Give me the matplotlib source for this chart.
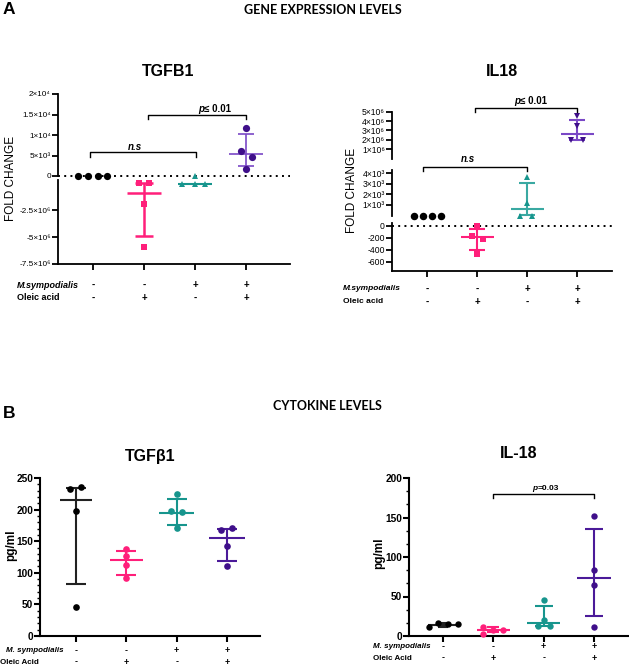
import matplotlib
matplotlib.use("Agg")
import matplotlib.pyplot as plt
from matplotlib.ticker import FixedLocator, FixedFormatter, AutoMinorLocator
from matplotlib.transforms import blended_transform_factory as btf

plt.rcParams['font.family'] = ['Liberation Sans', 'DejaVu Sans']

W, H = 629, 665

# ---------------- data ----------------
groups = ["Control", "Oleic acid", "M.sympodialis", "M.sympodialis + Oleic acid"]
msymp_signs = ["-", "-", "+", "+"]
oleic_signs = ["-", "+", "-", "+"]

# A: TGFB1 fold change
tgfb1_fc_black = [0, 0, 0, 0]
tgfb1_fc_pink = [1.0e5, 1.0e5, -1.9e6, -5.9e6]
tgfb1_fc_teal = [0, -1e4, -1e4, -1e4]
tgfb1_fc_purple = [11600, 6100, 4700, 1700]
tgfb1_fc_center = [None, -0.85e6, -1e4, 5400]
tgfb1_fc_low = [None, -4.9e6, -2e4, 2400]
tgfb1_fc_high = [None, 4e4, 0, 10200]
tgfb1_upper_ticks = [0, 5e3, 1e4, 1.5e4, 2e4]
tgfb1_upper_labels = ["0", "5×10³", "1×10⁴", "1.5×10⁴", "2×10⁴"]
tgfb1_lower_ticks = [-7.5e6, -5e6, -2.5e6]
tgfb1_lower_labels = ["-7.5×10⁶", "-5×10⁶", "-2.5×10⁶"]

# A: IL18 fold change
il18_fc_black = [0, 0, 0, 0]
il18_fc_pink = [-5, -170, -220, -470]
il18_fc_teal = [3700, 1160, 0, 0]
il18_fc_purple = [4.5e6, 3.43e6, 2.0e6, 2.0e6]
il18_fc_center = [None, -195, 620, 2.65e6]
il18_fc_low = [None, -405, 50, 2.0e6]
il18_fc_high = [None, -55, 3070, 4.15e6]
il18_top_ticks = [1e6, 2e6, 3e6, 4e6, 5e6]
il18_top_labels = ["1×10⁶", "2×10⁶", "3×10⁶", "4×10⁶", "5×10⁶"]
il18_mid_ticks = [1e3, 2e3, 3e3, 4e3]
il18_mid_labels = ["1×10³", "2×10³", "3×10³", "4×10³"]
il18_low_ticks = [-600, -400, -200, 0]
il18_low_labels = ["-600", "-400", "-200", "0"]

# B: TGFβ1 pg/ml
tgfb1_pg_black = [232, 236, 198, 46]
tgfb1_pg_pink = [138, 127, 113, 92]
tgfb1_pg_teal = [225, 197, 196, 171]
tgfb1_pg_purple = [168, 171, 143, 110]
tgfb1_pg_center = [215, 120, 194, 155]
tgfb1_pg_low = [83, 97, 176, 118]
tgfb1_pg_high = [234, 134, 217, 170]

# B: IL-18 pg/ml
il18_pg_black = [11, 16, 15, 15]
il18_pg_pink = [12, 3, 8, 8]
il18_pg_teal = [45, 20, 13, 13]
il18_pg_purple = [152, 84, 64, 12]
il18_pg_center = [14, 8, 17, 74]
il18_pg_low = [12, 5, 13, 25]
il18_pg_high = [16, 11, 38.5, 135]

# ---------------- style ----------------
BLACK = "#000000"
PINK = "#FF1F7A"
TEAL = "#17958D"
TEAL_L = "#3AA9A2"
PURPLE = "#3F0F8A"
PURPLE_L = "#7A48C6"
PURPLE_B = "#4B1A99"

fig = plt.figure(figsize=(W / 100, H / 100), dpi=100)


def box(x0, y0, x1, y1):
    return [x0 / W, 1 - y1 / H, (x1 - x0) / W, (y1 - y0) / H]


def fx(x):
    return x / W


def fy(y):
    return 1 - y / H


def style_axes(ax, xlim, ylim, bottom=False, lw=1.3):
    ax.set_xlim(*xlim)
    ax.set_ylim(*ylim)
    ax.patch.set_alpha(0)
    for s in ["top", "right"]:
        ax.spines[s].set_visible(False)
    ax.spines["left"].set_linewidth(lw)
    ax.spines["bottom"].set_linewidth(lw)
    if not bottom:
        ax.spines["bottom"].set_visible(False)
        ax.tick_params(axis="x", bottom=False, labelbottom=False)
    else:
        ax.set_xticks(range(4))
        ax.tick_params(axis="x", length=4, width=lw, labelbottom=False)
    ax.tick_params(axis="y", length=4, width=lw, pad=1.2)


def draw_group(ax_order, xc, vals, offs, center, lo, hi, mcolor, lcolor,
               marker, ms, mw=0.33, cw=0.17, lw=1.5):
    def pick(v):
        for a in ax_order:
            y0, y1 = a.get_ylim()
            if min(y0, y1) <= v <= max(y0, y1):
                return a
        return ax_order[-1]
    if center is not None:
        a = pick(center)
        kw = dict(color=lcolor, lw=lw, clip_on=False, zorder=3, solid_capstyle="butt")
        a.plot([xc - mw, xc + mw], [center, center], **kw)
        a.plot([xc, xc], [lo, hi], **kw)
        a.plot([xc - cw, xc + cw], [lo, lo], **kw)
        a.plot([xc - cw, xc + cw], [hi, hi], **kw)
    for v, o in zip(vals, offs):
        a = pick(v)
        a.plot([xc + o], [v], marker=marker, ms=ms, color=mcolor, ls="none",
               clip_on=False, zorder=4, markeredgewidth=0)


def bracket(ax, x0, x1, y, drop):
    ax.plot([x0, x0, x1, x1], [y - drop, y, y, y - drop], color="black",
            lw=1.0, clip_on=False, zorder=5)


def table(ax, y1, y2, fs):
    tr = btf(ax.transData, fig.transFigure)
    for i in range(4):
        ax.text(i, fy(y1), msymp_signs[i], transform=tr, ha="center", va="center",
                fontsize=fs, fontweight="bold")
        ax.text(i, fy(y2), oleic_signs[i], transform=tr, ha="center", va="center",
                fontsize=fs, fontweight="bold")


# ---------------- headings ----------------
fig.text(fx(3), fy(10), "A", fontsize=12.5, fontweight="bold", va="center", ha="left")
fig.text(fx(3), fy(413), "B", fontsize=12.5, fontweight="bold", va="center", ha="left")
fig.text(fx(323), fy(10), "GENE EXPRESSION LEVELS", fontsize=9, fontweight="bold",
         ha="center", va="center", family=["Lato", "DejaVu Sans"])
fig.text(fx(327), fy(406), "CYTOKINE LEVELS", fontsize=9, fontweight="bold",
         ha="center", va="center", family=["Lato", "DejaVu Sans"])

# ================= A: TGFB1 =================
xl_a1 = (-0.686, 3.863)
axU = fig.add_axes(box(58, 94, 290, 176))
axL = fig.add_axes(box(58, 180, 290, 264))
style_axes(axU, xl_a1, (0, 2e4))
style_axes(axL, xl_a1, (-7.5e6, 0.35e6), bottom=True)
axU.yaxis.set_major_locator(FixedLocator(tgfb1_upper_ticks))
axU.yaxis.set_major_formatter(FixedFormatter(tgfb1_upper_labels))
axL.yaxis.set_major_locator(FixedLocator(tgfb1_lower_ticks))
axL.yaxis.set_major_formatter(FixedFormatter(tgfb1_lower_labels))
for a in (axU, axL):
    a.tick_params(axis="y", labelsize=5.9)
axU.axhline(0, color="black", lw=1.4, ls=(0, (1, 2.2)), clip_on=False, zorder=2)

order = [axU, axL]
draw_group(order, 0, tgfb1_fc_black, [-0.29, -0.1, 0.1, 0.28], tgfb1_fc_center[0],
           tgfb1_fc_low[0], tgfb1_fc_high[0], BLACK, BLACK, "o", 5.2)
draw_group(order, 1, tgfb1_fc_pink, [-0.1, 0.1, 0, 0], tgfb1_fc_center[1],
           tgfb1_fc_low[1], tgfb1_fc_high[1], PINK, PINK, "s", 4.6, lw=1.8)
draw_group(order, 2, tgfb1_fc_teal, [0, -0.25, 0, 0.2], tgfb1_fc_center[2],
           tgfb1_fc_low[2], tgfb1_fc_high[2], TEAL, TEAL, "^", 4.8, cw=0.0)
draw_group(order, 3, tgfb1_fc_purple, [0, -0.1, 0.11, 0], tgfb1_fc_center[3],
           tgfb1_fc_low[3], tgfb1_fc_high[3], PURPLE, PURPLE_L, "o", 5.2, lw=1.2, cw=0.16)

bracket(axU, -0.05, 2.02, 5.8e3, 1.1e3)
bracket(axU, 1.07, 3.0, 14.9e3, 1.1e3)
fig.text(fx(135), fy(146.5), "n.s", fontsize=7, fontweight="bold", fontstyle="italic",
         ha="center", va="center")
fig.text(fx(204), fy(108.5), "p", fontsize=7, fontweight="bold", fontstyle="italic",
         ha="right", va="center")
fig.text(fx(204), fy(108.5), "≤ 0.01", fontsize=7, fontweight="bold", ha="left", va="center")
fig.text(fx(168), fy(72), "TGFB1", fontsize=11.5, fontweight="bold", ha="center", va="center")
fig.text(fx(11), fy(178), "FOLD CHANGE", fontsize=8.5, rotation=90, ha="center", va="center")
fig.text(fx(17), fy(285), "M.sympodialis", fontsize=6.5, fontweight="bold",
         fontstyle="italic", ha="left", va="center")
fig.text(fx(17), fy(298), "Oleic acid", fontsize=6.5, fontweight="bold", ha="left", va="center")
table(axL, 285, 298, 7)

# ================= A: IL18 =================
xl_a2 = (-0.7, 3.7)
axT = fig.add_axes(box(392, 111.7, 612, 158.6))
axM = fig.add_axes(box(392, 170, 612, 215.5))
axB = fig.add_axes(box(392, 223, 612, 271))
style_axes(axT, xl_a2, (0, 5e6))
style_axes(axM, xl_a2, (0, 4330))
style_axes(axB, xl_a2, (-755, 45), bottom=True)
axT.yaxis.set_major_locator(FixedLocator(il18_top_ticks))
axT.yaxis.set_major_formatter(FixedFormatter(il18_top_labels))
axM.yaxis.set_major_locator(FixedLocator(il18_mid_ticks))
axM.yaxis.set_major_formatter(FixedFormatter(il18_mid_labels))
axB.yaxis.set_major_locator(FixedLocator(il18_low_ticks))
axB.yaxis.set_major_formatter(FixedFormatter(il18_low_labels))
for a in (axT, axM, axB):
    a.tick_params(axis="y", labelsize=6.2)
axB.axhline(0, color="black", lw=1.4, ls=(0, (1, 2.2)), clip_on=False, zorder=2)

order2 = [axM, axB, axT]
draw_group(order2, 0, il18_fc_black, [-0.27, -0.09, 0.09, 0.27], il18_fc_center[0],
           il18_fc_low[0], il18_fc_high[0], BLACK, BLACK, "o", 5.4)
draw_group(order2, 1, il18_fc_pink, [0, -0.11, 0.12, 0], il18_fc_center[1],
           il18_fc_low[1], il18_fc_high[1], PINK, PINK, "s", 4.8, cw=0.16)
draw_group(order2, 2, il18_fc_teal, [0, 0, -0.14, 0.1], il18_fc_center[2],
           il18_fc_low[2], il18_fc_high[2], TEAL, TEAL_L, "^", 5.0, cw=0.16)
draw_group(order2, 3, il18_fc_purple, [0, 0, -0.12, 0.12], il18_fc_center[3],
           il18_fc_low[3], il18_fc_high[3], PURPLE, PURPLE_L, "v", 5.0, cw=0.16)

bracket(axT, 0.95, 3.0, 5.36e6, 0.42e6)
bracket(axM, -0.09, 2.0, 4650, 410)
fig.text(fx(468), fy(159.3), "n.s", fontsize=7, fontweight="bold", fontstyle="italic",
         ha="center", va="center")
fig.text(fx(520), fy(101), "p", fontsize=7, fontweight="bold", fontstyle="italic",
         ha="right", va="center")
fig.text(fx(520), fy(101), "≤ 0.01", fontsize=7, fontweight="bold", ha="left", va="center")
fig.text(fx(502), fy(72), "IL18", fontsize=11.5, fontweight="bold", ha="center", va="center")
fig.text(fx(352), fy(190), "FOLD CHANGE", fontsize=8.5, rotation=90, ha="center", va="center")
fig.text(fx(343), fy(289), "M.sympodialis", fontsize=6, fontweight="bold",
         fontstyle="italic", ha="left", va="center")
fig.text(fx(343), fy(302), "Oleic acid", fontsize=6, fontweight="bold", ha="left", va="center")
table(axB, 289, 302, 7)

# ================= B: TGFβ1 =================
axC = fig.add_axes(box(40, 478, 260, 636))
style_axes(axC, (-0.715, 3.656), (0, 250), bottom=True, lw=1.5)
axC.set_yticks([0, 50, 100, 150, 200, 250])
axC.yaxis.set_minor_locator(AutoMinorLocator(5))
axC.tick_params(axis="y", which="minor", length=2, width=1)
axC.tick_params(axis="y", labelsize=7.3, pad=1)
for t in axC.get_yticklabels():
    t.set_fontweight("bold")
draw_group([axC], 0, tgfb1_pg_black, [-0.12, 0.1, 0, 0], tgfb1_pg_center[0],
           tgfb1_pg_low[0], tgfb1_pg_high[0], BLACK, "#222222", "o", 4.8, mw=0.32, cw=0.2)
draw_group([axC], 1, tgfb1_pg_pink, [0, 0, 0, 0], tgfb1_pg_center[1],
           tgfb1_pg_low[1], tgfb1_pg_high[1], PINK, PINK, "o", 4.8, mw=0.33, cw=0.2)
draw_group([axC], 2, tgfb1_pg_teal, [0, -0.12, 0.1, 0], tgfb1_pg_center[2],
           tgfb1_pg_low[2], tgfb1_pg_high[2], TEAL, TEAL, "o", 4.8, mw=0.35, cw=0.2)
draw_group([axC], 3, tgfb1_pg_purple, [-0.12, 0.1, 0, 0], tgfb1_pg_center[3],
           tgfb1_pg_low[3], tgfb1_pg_high[3], PURPLE, PURPLE_B, "o", 4.8, mw=0.35, cw=0.2)
fig.text(fx(150), fy(456), "TGFβ1", fontsize=11.5, fontweight="bold", ha="center", va="center")
fig.text(fx(11), fy(545), "pg/ml", fontsize=8.5, fontweight="bold", rotation=90,
         ha="center", va="center")
fig.text(fx(64), fy(651), "M. sympodialis", fontsize=5.8, fontweight="bold",
         fontstyle="italic", ha="right", va="center")
fig.text(fx(0), fy(662), "Oleic Acid", fontsize=5.8, fontweight="bold", ha="left", va="center")
table(axC, 651, 662, 6.5)

# ================= B: IL-18 =================
axD = fig.add_axes(box(409, 478, 628, 636))
style_axes(axD, (-0.676, 3.676), (0, 200), bottom=True, lw=1.5)
axD.set_yticks([0, 50, 100, 150, 200])
axD.yaxis.set_minor_locator(AutoMinorLocator(3))
axD.tick_params(axis="y", which="minor", length=2, width=1)
axD.tick_params(axis="y", labelsize=7.3, pad=1)
for t in axD.get_yticklabels():
    t.set_fontweight("bold")
draw_group([axD], 0, il18_pg_black, [-0.28, -0.1, 0.1, 0.29], il18_pg_center[0],
           il18_pg_low[0], il18_pg_high[0], BLACK, "#222222", "o", 4.6, mw=0.3, cw=0.1)
draw_group([axD], 1, il18_pg_pink, [-0.2, -0.2, 0.0, 0.2], il18_pg_center[1],
           il18_pg_low[1], il18_pg_high[1], PINK, PINK, "o", 4.6, mw=0.33, cw=0.12)
draw_group([axD], 2, il18_pg_teal, [0, 0, -0.12, 0.12], il18_pg_center[2],
           il18_pg_low[2], il18_pg_high[2], TEAL, TEAL, "o", 4.6, mw=0.33, cw=0.18)
draw_group([axD], 3, il18_pg_purple, [0, 0, 0, 0], il18_pg_center[3],
           il18_pg_low[3], il18_pg_high[3], PURPLE, PURPLE_B, "o", 4.6, mw=0.33, cw=0.18)
bracket(axD, 1.0, 3.0, 179.7, 5)
fig.text(fx(537.5), fy(489), "p", fontsize=6, fontweight="bold", fontstyle="italic",
         ha="right", va="center")
fig.text(fx(537.5), fy(489), "=0.03", fontsize=6, fontweight="bold", ha="left", va="center")
fig.text(fx(519), fy(453), "IL-18", fontsize=11.5, fontweight="bold", ha="center", va="center")
fig.text(fx(379), fy(553), "pg/ml", fontsize=8.5, fontweight="bold", rotation=90,
         ha="center", va="center")
fig.text(fx(373), fy(647), "M. sympodialis", fontsize=5.8, fontweight="bold",
         fontstyle="italic", ha="left", va="center")
fig.text(fx(373), fy(658), "Oleic Acid", fontsize=5.8, fontweight="bold", ha="left", va="center")
table(axD, 647, 658, 6.5)

fig.savefig("out.png", dpi=100)
